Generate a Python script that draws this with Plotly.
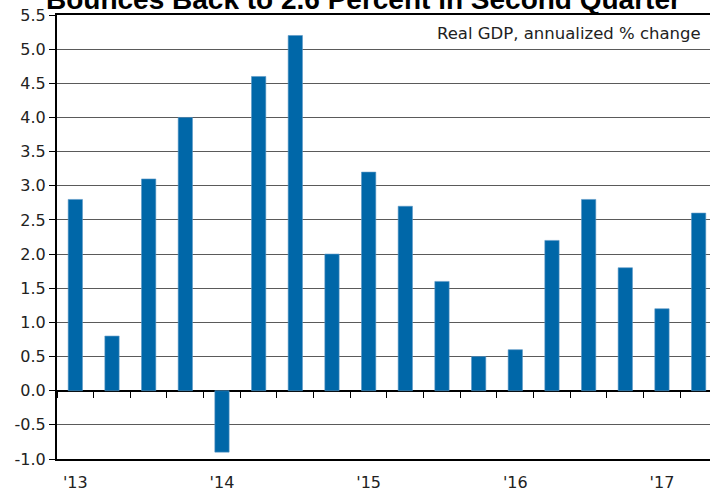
import plotly.graph_objects as go

# Quarterly real GDP growth, annualized % change
quarters = [
    "2013Q1", "2013Q2", "2013Q3", "2013Q4",
    "2014Q1", "2014Q2", "2014Q3", "2014Q4",
    "2015Q1", "2015Q2", "2015Q3", "2015Q4",
    "2016Q1", "2016Q2", "2016Q3", "2016Q4",
    "2017Q1", "2017Q2",
]
gdp_growth = [
    2.8, 0.8, 3.1, 4.0,
    -0.9, 4.6, 5.2, 2.0,
    3.2, 2.7, 1.6, 0.5,
    0.6, 2.2, 2.8, 1.8,
    1.2, 2.6,
]
year_ticks = ["2013Q1", "2014Q1", "2015Q1", "2016Q1", "2017Q1"]
year_labels = ["'13", "'14", "'15", "'16", "'17"]
y_ticks = [-1.0, -0.5, 0.0, 0.5, 1.0, 1.5, 2.0, 2.5, 3.0, 3.5, 4.0, 4.5, 5.0, 5.5]

title_text = "Bounces Back to 2.6 Percent in Second Quarter"
note_text = "Real GDP, annualized % change"

BAR_BLUE = "#0067a8"
TEXT_FONT = "DejaVu Sans, Verdana, sans-serif"

fig = go.Figure()

fig.add_trace(go.Bar(
    x=quarters,
    y=gdp_growth,
    width=0.39,
    marker=dict(color=BAR_BLUE, line=dict(color="#5b97c6", width=0.6)),
    showlegend=False,
    hoverinfo="x+y",
))

# helper trace so the overlaid axis carrying the quarter tick marks is drawn
fig.add_trace(go.Scatter(
    x=quarters,
    y=[None] * len(quarters),
    xaxis="x2",
    mode="markers",
    showlegend=False,
    hoverinfo="skip",
))

x_range = [-0.5, 17.31]

fig.update_layout(
    width=710,
    height=493,
    margin=dict(l=57, r=0, t=15, b=34),
    paper_bgcolor="white",
    plot_bgcolor="white",
    bargap=0.6,
    xaxis=dict(
        type="category",
        categoryorder="array",
        categoryarray=quarters,
        range=x_range,
        tickvals=year_ticks,
        ticktext=year_labels,
        ticks="",
        ticklabelstandoff=8,
        showgrid=False,
        zeroline=False,
        showline=True,
        linecolor="black",
        linewidth=1.6,
        mirror=True,
        tickfont=dict(family=TEXT_FONT, size=16, color="#222"),
    ),
    xaxis2=dict(
        type="category",
        categoryorder="array",
        categoryarray=quarters,
        range=x_range,
        overlaying="x",
        anchor="free",
        position=1.0 / 6.5,
        side="bottom",
        tickmode="array",
        tickvals=quarters,
        tickson="boundaries",
        ticks="outside",
        ticklen=6,
        tickwidth=1.3,
        tickcolor="black",
        showticklabels=False,
        showgrid=False,
        showline=False,
        zeroline=False,
    ),
    yaxis=dict(
        range=[-1.0, 5.5],
        tickvals=y_ticks,
        ticktext=[f"{v:.1f}" for v in y_ticks],
        ticks="outside",
        ticklen=6,
        tickwidth=1.3,
        tickcolor="black",
        showgrid=True,
        gridcolor="#5a5a5a",
        gridwidth=1.2,
        zeroline=True,
        zerolinecolor="black",
        zerolinewidth=2.2,
        showline=True,
        linecolor="black",
        linewidth=2,
        tickfont=dict(family=TEXT_FONT, size=16, color="#222"),
    ),
    annotations=[
        dict(
            text=f"<b>{title_text}</b>",
            xref="paper", yref="paper",
            x=0.47, y=1.0,
            xanchor="center", yanchor="bottom",
            yshift=-2,
            showarrow=False,
            font=dict(family="Liberation Sans, Arial, sans-serif", size=28, color="black"),
        ),
        dict(
            text=note_text,
            xref="paper", yref="paper",
            x=0.99, y=1.0,
            xanchor="right", yanchor="top",
            yshift=-7,
            showarrow=False,
            font=dict(family=TEXT_FONT, size=16.5, color="#222"),
        ),
    ],
)

fig.write_html("out.html")
